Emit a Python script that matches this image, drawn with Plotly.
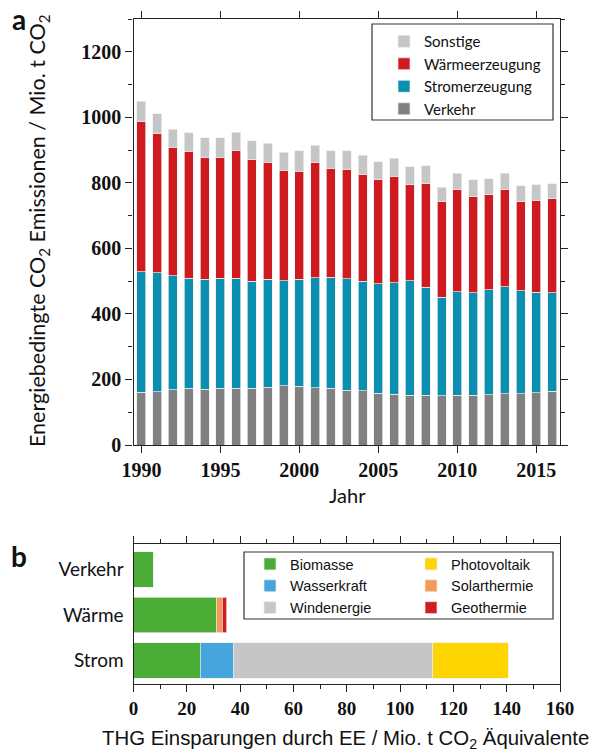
import plotly.graph_objects as go

# ---------------- data: panel a ----------------
years = list(range(1990, 2017))
verkehr = [161, 163, 169, 173, 170, 173, 173, 173, 177, 181, 179, 175, 173, 167,
           165, 158, 155, 152, 152, 150, 152, 152, 153, 156, 157, 160, 164]
stromerzeugung = [367, 363, 347, 336, 336, 336, 336, 327, 329, 321, 327, 336, 339, 341,
                  335, 334, 340, 350, 329, 301, 315, 312, 321, 327, 313, 306, 300]
waermeerzeugung = [458, 426, 392, 388, 372, 369, 391, 370, 357, 336, 330, 350, 332, 333,
                   327, 317, 324, 292, 317, 292, 314, 295, 289, 297, 272, 281, 288]
sonstige = [63, 59, 55, 56, 59, 59, 55, 58, 58, 55, 62, 54, 54, 57,
            57, 56, 56, 55, 54, 44, 49, 51, 49, 49, 49, 47, 46]

# ---------------- data: panel b ----------------
sectors = ["Strom", "Wärme", "Verkehr"]
biomasse = [25.0, 31.0, 7.5]
wasserkraft = [12.7, None, None]
windenergie = [74.6, None, None]
photovoltaik = [28.3, None, None]
solarthermie = [None, 2.3, None]
geothermie = [None, 1.7, None]

W, H = 595, 756
def px(x):
    return x / W
def py(y):
    return 1 - y / H

SANS = "Lato, 'Open Sans', sans-serif"
ARIAL = "'Liberation Sans', Arial, sans-serif"
SERIF = "'Liberation Serif', 'Times New Roman', serif"
AXC = "#222222"

fig = go.Figure()

top_series = [
    ("Verkehr", verkehr, "#808080"),
    ("Stromerzeugung", stromerzeugung, "#0a8fb0"),
    ("Wärmeerzeugung", waermeerzeugung, "#cf1a20"),
    ("Sonstige", sonstige, "#c6c6c6"),
]
for name, vals, col in top_series:
    fig.add_trace(go.Bar(
        x=years, y=vals, name=name, width=0.57,
        marker=dict(color=col, line=dict(color="#eeeeee", width=0.7)),
        xaxis="x", yaxis="y", legend="legend",
    ))

bot_series = [
    ("Biomasse", biomasse, "#4aab35", "legend2"),
    ("Wasserkraft", wasserkraft, "#45a5dc", "legend2"),
    ("Windenergie", windenergie, "#c6c6c6", "legend2"),
    ("Photovoltaik", photovoltaik, "#ffd500", "legend3"),
    ("Solarthermie", solarthermie, "#f39a58", "legend3"),
    ("Geothermie", geothermie, "#d21c23", "legend3"),
]
for name, vals, col, lg in bot_series:
    fig.add_trace(go.Bar(
        x=vals, y=sectors, name=name, orientation="h", width=0.78,
        marker=dict(color=col, line=dict(color="#eeeeee", width=0.7)),
        xaxis="x2", yaxis="y2", legend=lg,
    ))

axis_common = dict(showline=True, linecolor=AXC, linewidth=1.3, showgrid=False,
                   zeroline=False, ticks="outside", tickcolor=AXC, tickwidth=1.3,
                   automargin=False)

def ann(text, x, y, size, family=SANS, angle=0):
    return dict(text=text, x=px(x), y=py(y), xref="paper", yref="paper",
                xanchor="center", yanchor="middle", textangle=angle,
                showarrow=False, font=dict(family=family, size=size, color="#111"))

fig.update_layout(
    template="none",
    width=W, height=H, autosize=False,
    margin=dict(l=0, r=0, t=0, b=0, pad=0),
    paper_bgcolor="white", plot_bgcolor="white",
    barmode="stack",
    xaxis=dict(domain=[px(133.5), px(560)], range=[1989.5, 2016.5], tick0=1990, dtick=5,
               ticklen=7, mirror="ticks", anchor="y",
               tickfont=dict(family=SERIF, size=20, color="#111", weight="bold"),
               **axis_common),
    yaxis=dict(domain=[py(445), py(19)], range=[0, 1300], dtick=200, ticklen=7,
               mirror="ticks", anchor="x",
               minor=dict(dtick=100, ticks="outside", ticklen=4, tickcolor=AXC, tickwidth=1.3),
               tickfont=dict(family=SERIF, size=20, color="#111", weight="bold"),
               **axis_common),
    xaxis2=dict(domain=[px(133.5), px(560)], range=[0, 160], dtick=20, ticklen=7,
                mirror="ticks", anchor="y2",
                minor=dict(dtick=10, ticks="outside", ticklen=4, tickcolor=AXC, tickwidth=1.3),
                tickfont=dict(family=SERIF, size=19, color="#111", weight="bold"),
                **axis_common),
    yaxis2=dict(domain=[py(684), py(544)], type="category", categoryorder="array",
                categoryarray=sectors, range=[-0.52, 2.56], anchor="x2",
                showline=True, linecolor=AXC, linewidth=1.3, mirror=True, ticks="",
                showgrid=False, zeroline=False, automargin=False, ticklabelstandoff=5,
                tickfont=dict(family=SANS, size=19, color="#111")),
    legend=dict(x=px(384), y=py(25), xanchor="left", yanchor="top", traceorder="reversed",
                font=dict(family=SANS, size=15, color="#111"), bgcolor="rgba(0,0,0,0)",
                borderwidth=0, tracegroupgap=0),
    legend2=dict(x=px(250), y=py(548), xanchor="left", yanchor="top", traceorder="normal",
                 font=dict(family=ARIAL, size=14.5, color="#111"), bgcolor="rgba(0,0,0,0)",
                 borderwidth=0, tracegroupgap=0),
    legend3=dict(x=px(411), y=py(548), xanchor="left", yanchor="top", traceorder="normal",
                 font=dict(family=ARIAL, size=14.5, color="#111"), bgcolor="rgba(0,0,0,0)",
                 borderwidth=0, tracegroupgap=0),
    shapes=[
        dict(type="rect", xref="paper", yref="paper", x0=px(372), x1=px(553),
             y0=py(120), y1=py(24), line=dict(color="#333", width=1.2), layer="above"),
        dict(type="rect", xref="paper", yref="paper", x0=px(244), x1=px(553),
             y0=py(619), y1=py(552), line=dict(color="#333", width=1.2), layer="above"),
    ],
    annotations=[
        ann("Energiebedingte CO<sub>2</sub> Emissionen / Mio. t CO<sub>2</sub>",
            38, 231, 21.5, angle=-90),
        ann("Jahr", 347, 495, 20),
        ann("THG Einsparungen durch EE / Mio. t CO<sub>2</sub> Äquivalente",
            345, 739, 20.4, family=ARIAL),
        ann("<b>a</b>", 19, 19, 28),
        ann("<b>b</b>", 19, 556, 28),
    ],
)

fig.write_html("out.html", config={"displayModeBar": False},
               post_script="document.body.style.margin='0';")
